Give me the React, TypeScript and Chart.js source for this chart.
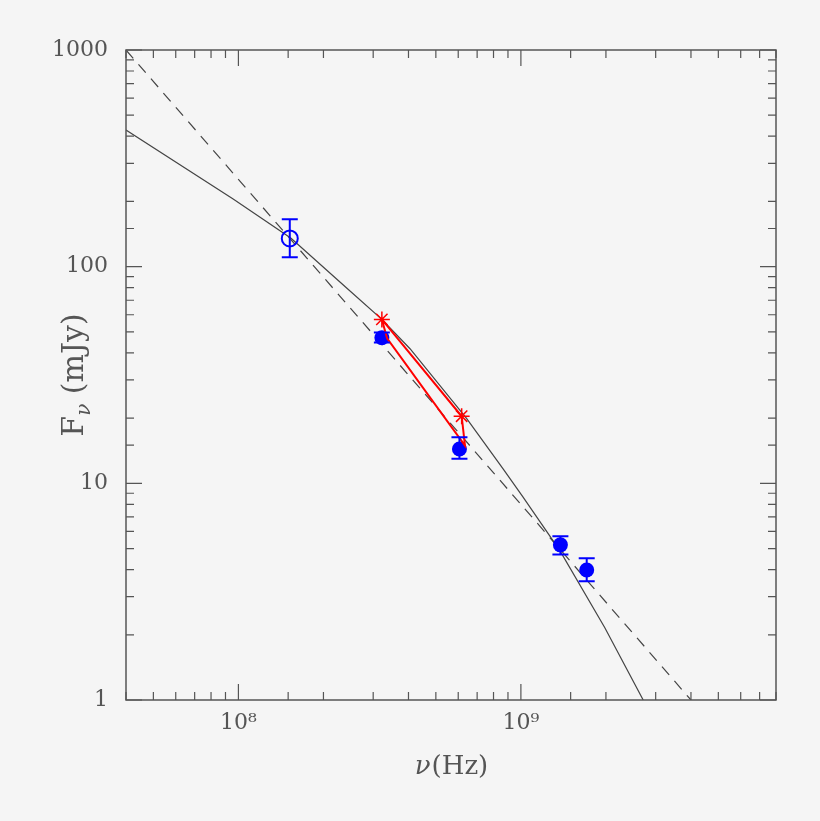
import { useEffect, useRef } from "react";
import { Chart, registerables } from "chart.js";

Chart.register(...registerables);

// model spectrum (solid curve)
const modelNu = [4.0e7, 9.58e7, 1.536e8, 2.4e8, 3.22e8, 4.05e8, 6.43e8, 8.65e8, 1.018e9, 1.374e9, 1.98e9, 2.71e9];
const modelFlux = [427, 205, 135.3, 80.3, 57.1, 41.8, 19.9, 11.67, 8.63, 4.89, 2.16, 1.0];

// power law (dashed)
const lawNu = [4e7, 4e9];
const lawFlux = [1000, 1];

// open circle measurement
const openNu = [1.52e8];
const openFlux = [135];
const openLo = [110.5];
const openHi = [165.6];

// filled measurements
const filledNu = [3.22e8, 6.06e8, 1.38e9, 1.71e9];
const filledFlux = [47, 14.4, 5.2, 3.98];
const filledLo = [44.7, 13.0, 4.69, 3.53];
const filledHi = [49.7, 16.3, 5.7, 4.51];

// red stars and the box joining them
const starNu = [3.22e8, 6.17e8];
const starFlux = [57.1, 20.4];
const boxNu = [3.22e8, 6.17e8, 6.34e8, 3.36e8, 3.22e8];
const boxFlux = [57.1, 20.4, 14.95, 46.7, 57.1];

// tick labels
const xLabelValues = [1e8, 1e9];
const xLabelTexts = ["10⁸", "10⁹"];
const yLabelValues = [1, 10, 100, 1000];
const yLabelTexts = ["1", "10", "100", "1000"];

const INK = "#555";
const BLUE = "#0000ff";
const RED = "#ff0000";
const SERIF = "'DejaVu Serif', serif";

const pts = (xs: number[], ys: number[]) => xs.map((x, i) => ({ x, y: ys[i] }));

const isDecade = (v: number) => Math.abs(Math.log10(v) - Math.round(Math.log10(v))) < 1e-6;

const pickLabel = (v: number, values: number[], texts: string[]) => {
  const i = values.findIndex((u) => Math.abs(u - v) / u < 1e-6);
  return i >= 0 ? texts[i] : "";
};

const framePlugin = {
  id: "frame",
  afterDatasetsDraw(chart: any) {
    const { ctx, chartArea, scales } = chart;
    const { left, right, top, bottom } = chartArea;
    const x = scales.x;
    const y = scales.y;
    ctx.save();

    // error bars
    ctx.strokeStyle = BLUE;
    ctx.lineWidth = 2;
    const bars = (nus: number[], los: number[], his: number[]) => {
      nus.forEach((nu, i) => {
        const px = x.getPixelForValue(nu);
        const lo = y.getPixelForValue(los[i]);
        const hi = y.getPixelForValue(his[i]);
        ctx.beginPath();
        ctx.moveTo(px, lo);
        ctx.lineTo(px, hi);
        ctx.moveTo(px - 8, lo);
        ctx.lineTo(px + 8, lo);
        ctx.moveTo(px - 8, hi);
        ctx.lineTo(px + 8, hi);
        ctx.stroke();
      });
    };
    bars(openNu, openLo, openHi);
    bars(filledNu, filledLo, filledHi);

    // box and inward ticks
    ctx.strokeStyle = INK;
    ctx.lineWidth = 1.5;
    ctx.strokeRect(left, top, right - left, bottom - top);
    ctx.lineWidth = 1.2;
    ctx.beginPath();
    x.ticks.forEach((t: any) => {
      const px = x.getPixelForValue(t.value);
      const len = isDecade(t.value) ? 16 : 8;
      ctx.moveTo(px, bottom);
      ctx.lineTo(px, bottom - len);
      ctx.moveTo(px, top);
      ctx.lineTo(px, top + len);
    });
    y.ticks.forEach((t: any) => {
      const py = y.getPixelForValue(t.value);
      const len = isDecade(t.value) ? 16 : 8;
      ctx.moveTo(left, py);
      ctx.lineTo(left + len, py);
      ctx.moveTo(right, py);
      ctx.lineTo(right - len, py);
    });
    ctx.stroke();
    ctx.restore();
  },
  afterDraw(chart: any) {
    const { ctx, chartArea } = chart;
    const { left, right, top, bottom } = chartArea;
    ctx.save();
    ctx.fillStyle = INK;
    ctx.textBaseline = "alphabetic";

    // x title: ν(Hz)
    const big = `26px ${SERIF}`;
    const nuFont = `italic 26px ${SERIF}`;
    ctx.font = nuFont;
    const wNu = ctx.measureText("ν").width;
    ctx.font = big;
    const wHz = ctx.measureText("(Hz)").width;
    const cx = (left + right) / 2 - (wNu + wHz) / 2;
    const by = bottom + 74;
    ctx.font = nuFont;
    ctx.fillText("ν", cx, by);
    ctx.font = big;
    ctx.fillText("(Hz)", cx + wNu + 1, by);

    // y title: Fν (mJy), rotated
    ctx.translate(left - 54, (top + bottom) / 2);
    ctx.rotate(-Math.PI / 2);
    const fF = `30px ${SERIF}`;
    const fSub = `italic 20px ${SERIF}`;
    ctx.font = fF;
    const wF = ctx.measureText("F").width;
    const wRest = ctx.measureText(" (mJy)").width;
    ctx.font = fSub;
    const wSub = ctx.measureText("ν").width;
    const sx = -(wF + wSub + wRest) / 2;
    ctx.font = fF;
    ctx.fillText("F", sx, 11);
    ctx.font = fSub;
    ctx.fillText("ν", sx + wF, 18);
    ctx.font = fF;
    ctx.fillText(" (mJy)", sx + wF + wSub, 11);
    ctx.restore();
  },
};

export default function App() {
  const canvasRef = useRef<HTMLCanvasElement | null>(null);

  useEffect(() => {
    const canvas = canvasRef.current;
    if (!canvas) return;

    const chart = new Chart(canvas, {
      type: "scatter",
      data: {
        datasets: [
          {
            label: "stars",
            data: pts(starNu, starFlux),
            pointStyle: "star",
            pointRadius: 8,
            borderColor: RED,
            backgroundColor: RED,
            borderWidth: 1.5,
          },
          {
            label: "box",
            data: pts(boxNu, boxFlux),
            showLine: true,
            pointRadius: 0,
            borderColor: RED,
            borderWidth: 2,
          },
          {
            label: "filled",
            data: pts(filledNu, filledFlux),
            pointStyle: "circle",
            pointRadius: 7.5,
            backgroundColor: BLUE,
            borderColor: BLUE,
            borderWidth: 0,
          },
          {
            label: "open",
            data: pts(openNu, openFlux),
            pointStyle: "circle",
            pointRadius: 8,
            backgroundColor: "rgba(0,0,0,0)",
            borderColor: BLUE,
            borderWidth: 2,
          },
          {
            label: "model",
            data: pts(modelNu, modelFlux),
            showLine: true,
            pointRadius: 0,
            borderColor: "#444",
            borderWidth: 1.2,
          },
          {
            label: "power law",
            data: pts(lawNu, lawFlux),
            showLine: true,
            pointRadius: 0,
            borderColor: "#444",
            borderWidth: 1.2,
            borderDash: [11, 8],
          },
        ],
      },
      options: {
        animation: false,
        responsive: true,
        maintainAspectRatio: false,
        events: [],
        layout: { padding: { top: 50, right: 44, left: 0, bottom: 0 } },
        plugins: {
          legend: { display: false },
          tooltip: { enabled: false },
        },
        scales: {
          x: {
            type: "logarithmic",
            min: 4e7,
            max: 8e9,
            grid: { display: false, drawTicks: false },
            border: { display: false },
            afterFit: (s: any) => {
              s.height = 121;
            },
            ticks: {
              autoSkip: false,
              maxRotation: 0,
              padding: 10,
              color: INK,
              font: { family: SERIF, size: 22 },
              callback: (v: any) => pickLabel(Number(v), xLabelValues, xLabelTexts),
            },
          },
          y: {
            type: "logarithmic",
            min: 1,
            max: 1000,
            grid: { display: false, drawTicks: false },
            border: { display: false },
            afterFit: (s: any) => {
              s.width = 126;
            },
            ticks: {
              autoSkip: false,
              padding: 18,
              color: INK,
              font: { family: SERIF, size: 22 },
              callback: (v: any) => pickLabel(Number(v), yLabelValues, yLabelTexts),
            },
          },
        },
      },
      plugins: [framePlugin],
    });

    return () => {
      chart.destroy();
    };
  }, []);

  return (
    <div style={{ width: 820, height: 821, background: "#f5f5f5", position: "relative" }}>
      <style>{"body{margin:0;background:#f5f5f5}"}</style>
      <canvas ref={canvasRef} />
    </div>
  );
}
